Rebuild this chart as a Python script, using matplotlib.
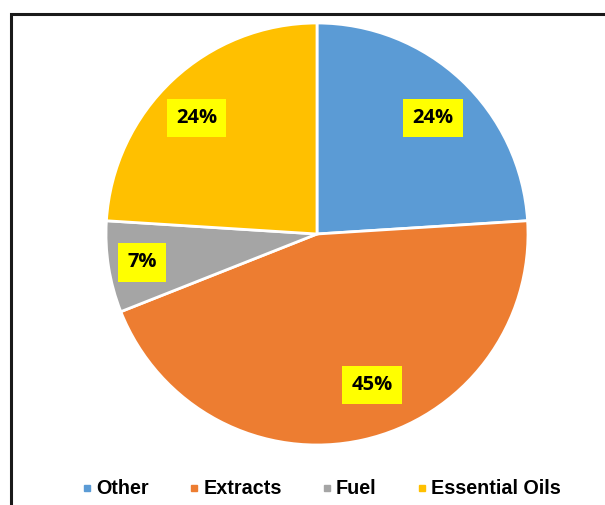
import matplotlib.pyplot as plt
from matplotlib.lines import Line2D
from matplotlib.patches import Rectangle

# Data
labels = ['Other', 'Extracts', 'Fuel', 'Essential Oils']
values = [24, 45, 7, 24]
colors = ['#5B9BD5', '#ED7D31', '#A5A5A5', '#FFC000']

# where each percentage label sits (axes data units, pie radius = 1)
label_pos = [(0.55, 0.55), (0.26, -0.715), (-0.83, -0.135), (-0.57, 0.55)]

W, H = 605, 505
fig = plt.figure(figsize=(W / 100, H / 100), dpi=100)

# outer frame (cut off on right/bottom like the original)
fig.patches.append(Rectangle((11 / W, -0.1), 1.2, 1 - 14 / H + 0.1,
                             transform=fig.transFigure, fill=False,
                             edgecolor='#1a1a1a', lw=2.2, zorder=0))

cx, cy, r = 317, 234, 211
ax = fig.add_axes([(cx - r) / W, (H - cy - r) / H, 2 * r / W, 2 * r / H])

wedges, texts, autotexts = ax.pie(
    values, colors=colors, startangle=90, counterclock=False,
    autopct='%d%%', pctdistance=0.78,
    wedgeprops=dict(edgecolor='white', linewidth=2),
    textprops=dict(fontsize=14.5, fontweight='bold', color='black',
                   family='Open Sans'))

for t, p in zip(autotexts, label_pos):
    t.set_position(p)
    t.set_bbox(dict(boxstyle='square,pad=0.45', facecolor='#FFFF00', edgecolor='none'))

ax.set_xlim(-1, 1)
ax.set_ylim(-1, 1)
ax.set_aspect('equal')
ax.axis('off')

handles = [Line2D([], [], marker='s', linestyle='none', markersize=5,
                  markerfacecolor=c, markeredgecolor=c) for c in colors]
fig.legend(handles, labels, loc='center', bbox_to_anchor=(321 / W, 1 - 489 / H),
           ncol=4, frameon=False, handletextpad=0.15, columnspacing=2.0,
           handlelength=0.6,
           prop=dict(family='Liberation Sans', weight='bold', size=14.2))

fig.savefig('out.png', dpi=100)
